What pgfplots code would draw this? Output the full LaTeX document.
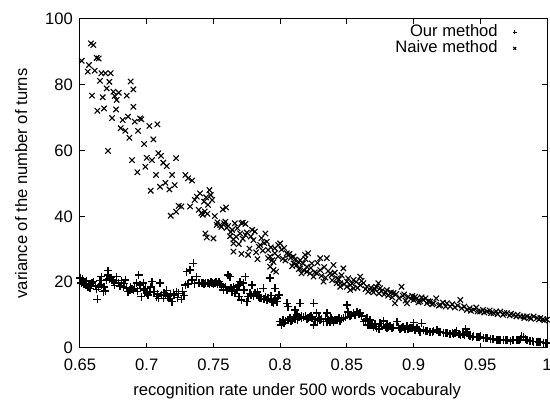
\documentclass[border=0pt]{standalone}
\usepackage{fontspec}
\setmainfont{Liberation Sans}
\usepackage{pgfplots}
\pgfplotsset{compat=1.18}

\pgfplotstableread{
x y
0.650 21.2
0.651 19.7
0.652 20.9
0.653 19.3
0.654 19.1
0.655 20.4
0.656 18.6
0.6575 18.1
0.658 18.9
0.659 19.7
0.660 20.2
0.6615 19.0
0.6625 17.8
0.663 14.8
0.664 18.6
0.665 20.5
0.666 19.1
0.666 21.7
0.6675 17.1
0.668 18.6
0.669 17.4
0.670 20.6
0.671 23.5
0.671 22.2
0.672 20.9
0.673 21.4
0.674 20.7
0.675 20.2
0.676 19.0
0.6775 21.7
0.679 19.7
0.680 18.9
0.681 20.5
0.683 19.6
0.684 20.7
0.6825 18.6
0.685 18.1
0.686 17.1
0.6875 17.6
0.688 18.4
0.689 17.8
0.690 17.6
0.691 18.1
0.693 17.2
0.694 22.2
0.6925 19.7
0.695 19.1
0.6975 19.7
0.698 17.6
0.699 18.1
0.696 15.6
0.700 16.6
0.701 16.1
0.702 16.9
0.703 18.5
0.704 20.2
0.705 17.1
0.706 17.1
0.7075 15.6
0.708 16.4
0.709 15.1
0.710 19.7
0.711 16.1
0.7125 15.1
0.713 16.8
0.714 16.1
0.715 17.5
0.716 15.6
0.7175 15.1
0.718 16.0
0.719 14.1
0.720 16.6
0.721 16.1
0.7225 17.1
0.723 15.3
0.724 16.6
0.726 14.8
0.727 17.2
0.728 16.0
0.729 19.1
0.730 23.2
0.731 19.5
0.7325 23.7
0.735 25.7
0.734 20.7
0.736 19.6
0.7375 21.7
0.739 19.7
0.741 19.7
0.742 19.9
0.743 19.4
0.744 19.7
0.746 19.7
0.747 19.5
0.748 20.0
0.749 19.9
0.750 19.6
0.751 19.7
0.752 20.0
0.753 19.4
0.754 20.2
0.755 19.6
0.756 19.1
0.7575 17.6
0.759 18.6
0.760 17.6
0.761 22.2
0.7625 21.7
0.763 18.1
0.764 17.1
0.765 18.6
0.766 16.6
0.7675 17.6
0.768 18.9
0.769 15.6
0.769 19.1
0.770 20.2
0.771 14.6
0.7725 19.7
0.773 17.6
0.774 21.7
0.775 14.1
0.776 15.6
0.7775 16.6
0.778 16.1
0.779 19.1
0.780 15.7
0.781 16.6
0.7825 16.1
0.783 17.0
0.784 15.6
0.785 15.1
0.786 15.1
0.7875 18.1
0.788 14.9
0.789 15.6
0.790 14.6
0.791 15.1
0.7925 21.2
0.793 15.9
0.794 14.1
0.795 13.8
0.796 18.1
0.796 14.7
0.7975 14.1
0.798 15.2
0.799 16.1
0.800 8.0
0.801 7.0
0.802 8.6
0.803 7.6
0.804 8.3
0.805 13.6
0.806 12.6
0.806 8.4
0.8074 9.0
0.808 8.1
0.809 8.6
0.810 9.0
0.811 11.6
0.811 8.9
0.8125 10.0
0.813 8.6
0.814 9.3
0.815 13.6
0.816 9.6
0.816 9.0
0.8175 9.3
0.819 9.6
0.820 8.8
0.821 9.0
0.8225 9.3
0.823 9.6
0.824 9.0
0.825 13.6
0.825 7.0
0.826 8.6
0.8274 10.6
0.828 8.3
0.829 9.0
0.830 8.6
0.831 8.9
0.8325 8.0
0.834 9.0
0.835 10.6
0.835 8.0
0.836 8.6
0.8375 8.0
0.838 9.2
0.839 8.6
0.840 8.0
0.841 8.4
0.8425 8.6
0.844 9.1
0.845 8.3
0.846 8.8
0.8475 9.0
0.849 9.3
0.850 13.1
0.851 11.0
0.8524 9.6
0.853 10.1
0.855 10.6
0.856 10.0
0.8575 11.0
0.859 10.3
0.860 10.6
0.861 9.8
0.8625 8.0
0.864 8.5
0.865 9.0
0.866 7.0
0.8674 7.0
0.8674 8.5
0.869 6.9
0.870 6.5
0.871 7.3
0.8724 6.0
0.874 5.7
0.875 7.5
0.876 6.6
0.8775 8.2
0.879 6.4
0.880 7.0
0.880 6.0
0.881 6.5
0.8824 6.7
0.884 6.1
0.885 6.3
0.8875 8.0
0.8886 6.3
0.890 5.9
0.891 6.0
0.892 6.4
0.8936 5.7
0.895 6.7
0.896 5.8
0.8974 6.0
0.899 6.1
0.900 7.7
0.901 5.5
0.9024 6.0
0.904 5.6
0.905 5.0
0.906 7.5
0.9074 5.5
0.909 5.2
0.910 5.3
0.9124 5.0
0.914 4.9
0.915 5.3
0.9174 5.5
0.919 5.0
0.920 5.0
0.9225 4.7
0.924 4.6
0.925 4.5
0.9274 4.3
0.929 4.6
0.930 4.3
0.931 4.5
0.932 5.3
0.934 4.2
0.935 4.0
0.937 4.2
0.938 4.0
0.939 5.7
0.940 5.0
0.941 3.8
0.9424 3.5
0.944 3.4
0.945 3.5
0.9475 3.3
0.949 3.2
0.950 3.5
0.9525 3.0
0.954 2.9
0.955 3.0
0.9575 2.7
0.959 2.7
0.960 2.6
0.9624 2.4
0.964 2.5
0.965 2.4
0.9674 2.4
0.969 2.3
0.970 2.4
0.9725 2.2
0.974 2.3
0.975 2.4
0.9775 2.4
0.979 2.5
0.980 2.6
0.981 3.5
0.9825 3.3
0.984 2.6
0.985 2.4
0.9874 2.2
0.989 2.0
0.990 1.9
0.9925 1.9
0.994 1.8
0.995 1.7
0.9975 1.6
0.999 1.5
1.000 1.4
}\ours

\pgfplotstableread{
x y
0.6513 87.3
0.6558 84.0
0.6567 86.0
0.6582 92.6
0.6590 76.7
0.6600 92.1
0.6610 84.3
0.6625 88.2
0.6630 72.1
0.6640 88.0
0.6650 81.2
0.6660 83.5
0.6670 76.2
0.6680 72.8
0.6690 83.5
0.6700 78.9
0.6710 59.9
0.6720 80.9
0.6730 83.5
0.6740 69.9
0.6750 77.9
0.6760 76.6
0.6775 75.4
0.6770 72.5
0.6790 77.6
0.6805 66.8
0.6820 69.3
0.6840 66.0
0.6850 76.7
0.6860 70.3
0.6870 63.9
0.6880 81.0
0.6890 57.1
0.6900 78.6
0.6900 73.3
0.6910 68.8
0.6930 53.4
0.6935 66.0
0.6950 69.8
0.6960 69.5
0.6980 62.0
0.6990 55.1
0.7000 57.8
0.7020 67.5
0.7030 47.8
0.7040 57.1
0.7050 63.4
0.7070 52.6
0.7080 68.0
0.7087 59.2
0.7100 49.0
0.7107 58.4
0.7124 56.3
0.7140 50.2
0.7150 55.3
0.7170 48.2
0.7180 40.2
0.7190 52.6
0.7210 49.5
0.7220 57.7
0.7220 41.4
0.7240 43.2
0.7260 43.0
0.7290 52.6
0.7310 51.6
0.7325 43.0
0.7340 50.9
0.7360 45.0
0.7375 46.0
0.7390 42.0
0.7400 47.0
0.7410 41.0
0.7420 40.5
0.7430 44.5
0.7435 41.5
0.7440 34.8
0.7445 45.8
0.7450 33.6
0.7455 40.8
0.7460 43.5
0.7470 48.0
0.7480 46.5
0.7490 45.0
0.7500 33.3
0.7510 40.1
0.7525 37.4
0.7530 38.2
0.7550 37.4
0.7560 36.8
0.7570 42.1
0.7580 37.9
0.7590 38.4
0.7595 42.7
0.7600 36.5
0.7610 37.1
0.7625 34.0
0.7630 35.2
0.7640 35.9
0.7650 33.0
0.7650 31.8
0.7650 29.3
0.7660 37.9
0.7670 33.8
0.7680 36.4
0.7690 31.6
0.7700 34.8
0.7710 37.9
0.7710 28.6
0.7720 38.1
0.7720 33.2
0.7740 34.3
0.7740 37.7
0.7750 35.1
0.7760 28.3
0.7770 30.2
0.7780 33.9
0.7790 35.9
0.7800 32.8
0.7810 35.4
0.7820 29.1
0.7830 27.0
0.7840 30.8
0.7850 31.3
0.7860 33.4
0.7870 29.6
0.7880 31.9
0.7890 34.8
0.7900 32.3
0.7910 29.8
0.7910 27.3
0.7925 27.8
0.7925 24.7
0.7930 30.6
0.7940 26.7
0.7950 23.7
0.7950 26.1
0.7960 28.8
0.7960 30.3
0.7970 23.2
0.7985 27.8
0.7985 31.3
0.8000 31.8
0.8010 29.9
0.8020 27.1
0.8030 30.4
0.8040 26.6
0.8050 28.8
0.8060 28.3
0.8070 28.6
0.8080 27.4
0.8090 24.9
0.8100 27.8
0.8100 25.7
0.8110 26.9
0.8125 25.2
0.8137 26.2
0.8140 24.0
0.8150 26.7
0.8150 24.2
0.8160 22.7
0.8170 25.7
0.8180 23.6
0.8187 28.3
0.8190 27.0
0.8200 24.7
0.8200 23.2
0.8210 28.8
0.8224 22.7
0.8230 24.3
0.8237 25.7
0.8250 21.7
0.8260 23.0
0.8274 22.7
0.8280 25.9
0.8300 27.3
0.8300 23.7
0.8310 21.9
0.8325 20.2
0.8330 24.6
0.8340 21.4
0.8350 27.3
0.8360 23.4
0.8375 22.7
0.8387 22.2
0.8390 20.6
0.8400 25.2
0.8410 22.9
0.8424 19.7
0.8425 21.2
0.8440 20.9
0.8450 19.7
0.8450 18.6
0.8460 22.1
0.8474 24.2
0.8480 19.4
0.8500 20.2
0.8500 18.6
0.8510 21.2
0.8525 19.1
0.8525 17.6
0.8540 19.6
0.8550 20.7
0.8550 18.1
0.8570 20.1
0.8580 18.3
0.8600 21.7
0.8600 19.1
0.8610 20.4
0.8625 19.7
0.8640 17.9
0.8650 18.6
0.8660 17.1
0.8680 18.4
0.8690 17.4
0.8700 16.9
0.8710 17.9
0.8720 18.6
0.8736 19.7
0.8740 16.6
0.8750 18.2
0.8760 17.3
0.8780 16.3
0.8790 17.0
0.8800 17.6
0.8810 15.9
0.8830 16.9
0.8840 15.4
0.8850 16.7
0.8860 13.6
0.8870 16.4
0.8890 15.1
0.8910 18.6
0.8920 15.9
0.8930 16.3
0.8940 14.4
0.8950 13.6
0.8960 15.6
0.8980 14.9
0.8990 15.8
0.9000 14.6
0.9012 15.6
0.9024 15.1
0.9037 13.9
0.9050 14.2
0.9060 15.4
0.9074 14.6
0.9090 15.1
0.9100 13.6
0.9110 14.2
0.9124 14.1
0.9140 13.3
0.9150 13.6
0.9170 15.1
0.9190 12.9
0.9200 13.1
0.9220 13.8
0.9240 12.6
0.9250 13.6
0.9274 12.6
0.9290 13.3
0.9310 12.3
0.9330 12.9
0.9350 14.6
0.9360 12.1
0.9380 12.6
0.9400 11.6
0.9420 12.1
0.9430 11.3
0.9450 11.6
0.9470 12.3
0.9480 11.1
0.9500 11.1
0.9520 11.6
0.9530 10.8
0.9550 11.1
0.9570 11.4
0.9580 10.6
0.9600 10.6
0.9620 11.1
0.9630 10.3
0.9650 11.1
0.9670 10.1
0.9680 10.6
0.9700 10.6
0.9720 9.9
0.9730 10.4
0.9750 10.1
0.9770 9.6
0.9780 10.1
0.9800 9.6
0.9824 9.6
0.9830 9.1
0.9850 9.6
0.9870 9.3
0.9880 8.9
0.9900 9.6
0.9925 9.1
0.9940 8.7
0.9950 9.1
0.9970 8.8
0.9980 8.4
1.0000 8.6
}\naive

\begin{document}
\begin{tikzpicture}
\begin{axis}[
  scale only axis, width=233.5pt, height=164.5pt,
  xmin=0.65, xmax=1, ymin=0, ymax=100,
  xtick={0.65,0.7,0.75,0.8,0.85,0.9,0.95,1},
  xticklabels={0.65,0.7,0.75,0.8,0.85,0.9,0.95,1},
  ytick={0,20,40,60,80,100},
  yticklabels={0,20,40,60,80,100},
  tick align=inside, major tick length=2.5pt,
  tick style={black, line width=0.5pt},
  axis line style={line width=0.5pt},
  font=\fontsize{8.3}{9.5}\selectfont,
  tick label style={font=\fontsize{8.3}{9.5}\selectfont},
  xticklabel style={yshift=-1.8pt},
  xlabel={recognition rate under 500 words vocaburaly},
  ylabel={variance of the number of turns},
  xlabel style={at={(axis description cs:0.465,-0.131)}, anchor=center},
  ylabel style={at={(axis description cs:-0.126,0.5)}, anchor=center},
  legend plot pos=right, legend cell align=right,
  legend style={draw=none, fill=none, inner sep=0pt, row sep=0pt,
    column sep=7.5pt, at={(0.936,0.985)}, anchor=north east,
    nodes={inner sep=0pt, text height=6.2pt, text depth=1.8pt},
    font=\fontsize{8.3}{9.5}\selectfont},
  legend image post style={mark size=1pt},
]
\addplot[only marks, mark=+, mark size=2pt, line width=0.75pt, black] table[x=x,y=y] {\ours};
\addplot[only marks, mark=x, mark size=1.9pt, line width=0.55pt, black] table[x=x,y=y] {\naive};
\legend{Our method, Naive method}
\end{axis}
\pgfresetboundingbox
\path[use as bounding box] ([xshift=-40pt,yshift=-26pt]current axis.south west) rectangle ([xshift=1.5pt,yshift=9.5pt]current axis.north east);
\end{tikzpicture}
\end{document}
